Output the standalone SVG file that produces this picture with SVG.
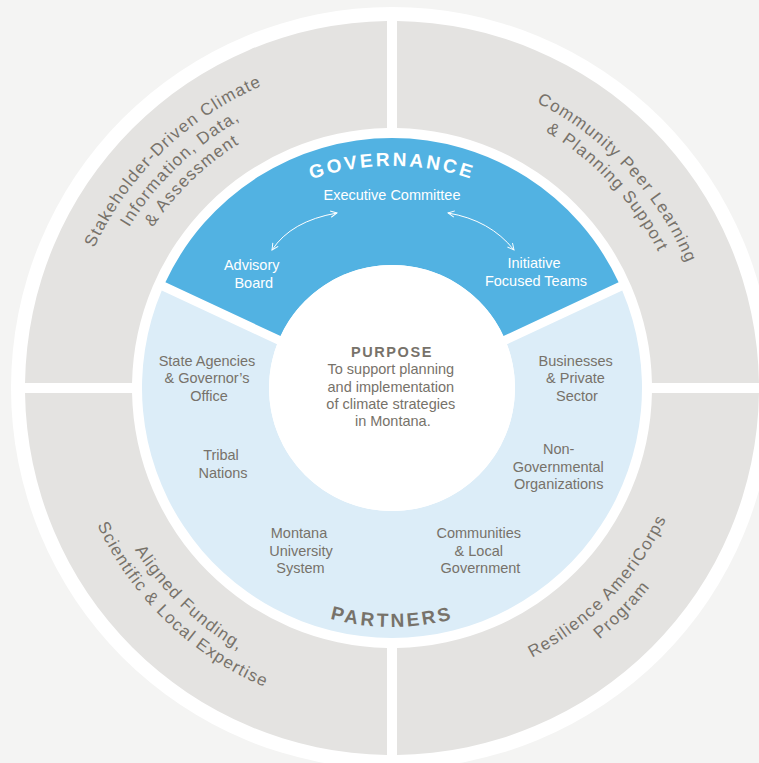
<svg xmlns="http://www.w3.org/2000/svg" width="759" height="763" viewBox="0 0 759 763">
<defs>
<style>
.q{fill:#e4e3e1}
.qt{font-family:"Liberation Sans",Arial,sans-serif;font-size:17px;fill:#77726a;letter-spacing:1.2px}
.pt{font-family:"Liberation Sans",Arial,sans-serif;font-size:14.5px;fill:#77726a;text-anchor:middle}
.gt{font-family:"Liberation Sans",Arial,sans-serif;font-size:14.5px;fill:#ffffff;text-anchor:middle}
.hd{font-family:"Liberation Sans",Arial,sans-serif;font-size:19px;font-weight:bold;letter-spacing:2.8px}
.arr{fill:none;stroke:#ffffff;stroke-width:1;marker-start:url(#ah);marker-end:url(#ah)}
</style>
<marker id="ah" viewBox="0 0 10 10" refX="9" refY="5" markerWidth="8" markerHeight="8" markerUnits="userSpaceOnUse" orient="auto-start-reverse">
<path d="M1,1 L9,5 L1,9" fill="none" stroke="#ffffff" stroke-width="1.2"/>
</marker>
<path id="tl1" d="M136.3,595.0 A329 329 0 0 1 607.9,139.7"/>
<path id="tl2" d="M152.3,582.1 A308.5 308.5 0 0 1 594.4,155.2"/>
<path id="tl3" d="M168.2,569.2 A288 288 0 0 1 581.0,170.6"/>
<path id="tr1" d="M195.0,135.8 A320 320 0 0 1 629.8,602.1"/>
<path id="tr2" d="M207.9,152.4 A299 299 0 0 1 614.2,588.1"/>
<path id="bl1" d="M155.8,196.7 A304 304 0 0 0 591.5,617.4"/>
<path id="bl2" d="M139.4,183.5 A325 325 0 0 0 605.2,633.3"/>
<path id="br1" d="M200.7,624.2 A304 304 0 0 0 621.4,188.5"/>
<path id="br2" d="M186.8,641.3 A326 326 0 0 0 638.0,174.1"/>
<path id="govArc" d="M142,416 A250 250 0 0 1 642,416"/>
<path id="partArc" d="M153,388 A239 239 0 0 0 631,388"/>
</defs>

<rect x="0" y="0" width="759" height="763" fill="#f4f4f3"/>
<circle cx="392" cy="388" r="381" fill="#ffffff"/>

<g id="quadrant-information">
<path class="q" d="M25.03,383 A367 367 0 0 1 387,21.03 L387,128.05 A260 260 0 0 0 132.05,383 Z"/>
<text class="qt"><textPath href="#tl1" startOffset="50%" text-anchor="middle">Stakeholder-Driven Climate</textPath></text>
<text class="qt"><textPath href="#tl2" startOffset="50%" text-anchor="middle">Information, Data,</textPath></text>
<text class="qt"><textPath href="#tl3" startOffset="50%" text-anchor="middle">&amp; Assessment</textPath></text>
</g>

<g id="quadrant-peer-learning">
<path class="q" d="M397,21.03 A367 367 0 0 1 758.97,383 L651.95,383 A260 260 0 0 0 397,128.05 Z"/>
<text class="qt"><textPath href="#tr1" startOffset="50%" text-anchor="middle">Community Peer Learning</textPath></text>
<text class="qt"><textPath href="#tr2" startOffset="50%" text-anchor="middle">&amp; Planning Support</textPath></text>
</g>

<g id="quadrant-americorps">
<path class="q" d="M758.97,393 A367 367 0 0 1 397,754.97 L397,647.95 A260 260 0 0 0 651.95,393 Z"/>
<text class="qt"><textPath href="#br1" startOffset="50%" text-anchor="middle">Resilience AmeriCorps</textPath></text>
<text class="qt"><textPath href="#br2" startOffset="50%" text-anchor="middle">Program</textPath></text>
</g>

<g id="quadrant-funding">
<path class="q" d="M387,754.97 A367 367 0 0 1 25.03,393 L132.05,393 A260 260 0 0 0 387,647.95 Z"/>
<text class="qt"><textPath href="#bl1" startOffset="50%" text-anchor="middle">Aligned Funding,</textPath></text>
<text class="qt"><textPath href="#bl2" startOffset="50%" text-anchor="middle">Scientific &amp; Local Expertise</textPath></text>
</g>

<g id="partners">
<path fill="#dcedf8" d="M161.77,290.58 A250 250 0 1 0 622.23,290.58 L506.98,344.32 A123 123 0 1 1 277.02,344.32 Z"/>
<text class="hd" fill="#77726a"><textPath href="#partArc" startOffset="50%" text-anchor="middle">PARTNERS</textPath></text>
</g>

<g id="state-agencies">
<text class="pt"><tspan x="207" y="366">State Agencies</tspan><tspan x="207" y="383.3">&amp; Governor’s</tspan><tspan x="209" y="400.7">Office</tspan></text>
</g>
<g id="tribal-nations">
<text class="pt"><tspan x="221" y="460">Tribal</tspan><tspan x="223" y="477.7">Nations</tspan></text>
</g>
<g id="montana-university">
<text class="pt"><tspan x="299" y="538.3">Montana</tspan><tspan x="301" y="555.7">University</tspan><tspan x="300.5" y="573.3">System</tspan></text>
</g>
<g id="communities">
<text class="pt"><tspan x="478.8" y="538.3">Communities</tspan><tspan x="478.8" y="555.7">&amp; Local</tspan><tspan x="480.5" y="573.3">Government</tspan></text>
</g>
<g id="ngos">
<text class="pt"><tspan x="558.7" y="454.3">Non-</tspan><tspan x="558.3" y="471.7">Governmental</tspan><tspan x="558.7" y="489">Organizations</tspan></text>
</g>
<g id="businesses">
<text class="pt"><tspan x="575.7" y="366">Businesses</tspan><tspan x="575.5" y="383.3">&amp; Private</tspan><tspan x="577" y="400.7">Sector</tspan></text>
</g>

<g id="governance">
<path fill="#52b2e2" d="M165.4,282.3 A250 250 0 0 1 618.6,282.3 L503.5,336.0 A123 123 0 0 0 280.5,336.0 Z"/>
<text class="hd" fill="#ffffff"><textPath href="#govArc" startOffset="50%" text-anchor="middle">GOVERNANCE</textPath></text>
</g>
<g id="executive-committee">
<text class="gt" x="392" y="199.5">Executive Committee</text>
</g>
<g id="advisory-board">
<text class="gt"><tspan x="251.7" y="270">Advisory</tspan><tspan x="253.8" y="288">Board</tspan></text>
</g>
<g id="initiative-teams">
<text class="gt"><tspan x="534" y="268.3">Initiative</tspan><tspan x="536" y="286">Focused Teams</tspan></text>
</g>

<g id="purpose">
<circle cx="392" cy="388" r="123" fill="#ffffff"/>
<text class="pt" x="392" y="356.7" font-weight="bold" font-size="14" letter-spacing="1.6">PURPOSE</text>
<text class="pt"><tspan x="390.8" y="374.3">To support planning</tspan><tspan x="390.8" y="391.5">and implementation</tspan><tspan x="390.8" y="409">of climate strategies</tspan><tspan x="392.8" y="425.5">in Montana.</tspan></text>
</g>

<g id="connectors">
<path class="arr" d="M272,250 Q291,221 337,213"/>
<path class="arr" d="M448,213 Q490,220 514,250"/>
</g>
</svg>
